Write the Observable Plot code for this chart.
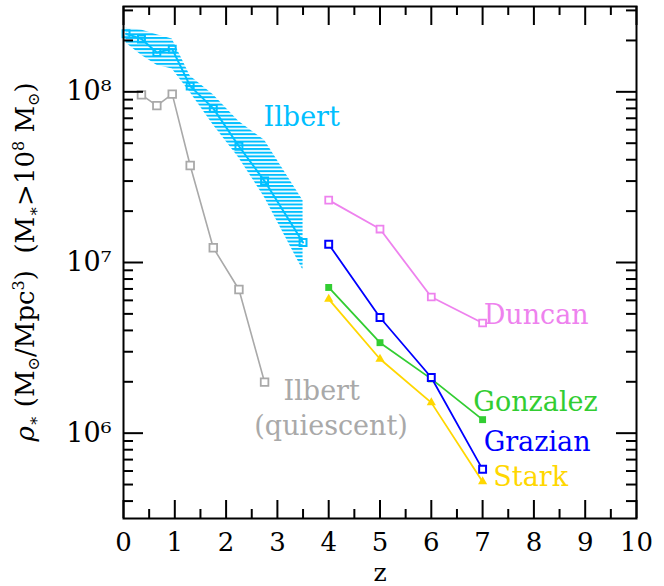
<!DOCTYPE html>
<html>
<head>
<meta charset="utf-8">
<script src="https://cdn.jsdelivr.net/npm/d3@7"></script>
<script src="https://cdn.jsdelivr.net/npm/@observablehq/plot@0.6"></script>
<style>
  body { margin: 0; background: #fff; }
  #chart svg { display: block; }
</style>
</head>
<body>
<div id="chart"></div>
<script>
// ---------------- data ----------------
const ilbertZ   = [0.05, 0.35, 0.65, 0.95, 1.3, 1.75, 2.25, 2.75, 3.5];
const ilbertRho = [2.19e8, 2.04e8, 1.70e8, 1.78e8, 1.08e8, 8.0e7, 4.8e7, 3.0e7, 1.31e7];
const ilbertHi  = [2.36e8, 2.30e8, 2.16e8, 2.04e8, 1.24e8, 9.6e7, 6.7e7, 5.2e7, 2.3e7];
const ilbertLo  = [1.93e8, 1.64e8, 1.43e8, 1.36e8, 9.9e7, 6.4e7, 4.1e7, 2.4e7, 9.0e6];

const quiescentZ   = [0.35, 0.65, 0.95, 1.3, 1.75, 2.25, 2.75];
const quiescentRho = [9.6e7, 8.3e7, 9.7e7, 3.7e7, 1.22e7, 6.95e6, 1.99e6];

const highZ       = [4, 5, 6, 7];
const duncanRho   = [2.32e7, 1.57e7, 6.28e6, 4.42e6];
const grazianRho  = [1.28e7, 4.76e6, 2.12e6, 6.14e5];
const gonzalezRho = [7.14e6, 3.39e6, 2.08e6, 1.20e6];
const starkRho    = [6.1e6, 2.72e6, 1.51e6, 5.2e5];

const xMajor = [0, 1, 2, 3, 4, 5, 6, 7, 8, 9, 10];
const xMinor = [0.5, 1.5, 2.5, 3.5, 4.5, 5.5, 6.5, 7.5, 8.5, 9.5];
const yMajor = [1e6, 1e7, 1e8];
const yMajorLabels = ["10⁶", "10⁷", "10⁸"];
const yMinor = [4e5, 5e5, 6e5, 7e5, 8e5, 9e5,
                2e6, 3e6, 4e6, 5e6, 6e6, 7e6, 8e6, 9e6,
                2e7, 3e7, 4e7, 5e7, 6e7, 7e7, 8e7, 9e7,
                2e8, 3e8];

const labelText   = ["Ilbert", "Duncan", "Gonzalez", "Grazian", "Stark", "Ilbert", "(quiescent)"];
const labelSeries = ["Ilbert", "Duncan", "Gonzalez", "Grazian", "Stark", "Quiescent", "Quiescent"];
const labelZ      = [2.73, 7.02, 6.82, 7.02, 7.21, 3.12, 2.55];
const labelRho    = [6.32e7, 4.36e6, 1.34e6, 7.89e5, 4.93e5, 1.56e6, 9.8e5];

// ---------------- styles ----------------
const colors = {
  Ilbert: "#00BFFF", Quiescent: "#A9A9A9", Duncan: "#EE82EE",
  Gonzalez: "#32CD32", Grazian: "#0000FF", Stark: "#FFD700"
};
const W = 664, H = 586, mL = 123, mR = 28, mT = 6, mB = 68;
const frameW = W - mL - mR, frameH = H - mT - mB;

// ---------------- tables ----------------
const ilbert = ilbertZ.map((z, i) => ({z, rho: ilbertRho[i], hi: ilbertHi[i], lo: ilbertLo[i]}));
const quiescent = quiescentZ.map((z, i) => ({z, rho: quiescentRho[i]}));
const mk = arr => highZ.map((z, i) => ({z, rho: arr[i]}));
const duncan = mk(duncanRho), grazian = mk(grazianRho), gonzalez = mk(gonzalezRho), stark = mk(starkRho);
const labels = labelText.map((t, i) => ({t, s: labelSeries[i], z: labelZ[i], rho: labelRho[i]}));

const fs = 27;
const chart = Plot.plot({
  width: W, height: H,
  marginLeft: mL, marginRight: mR, marginTop: mT, marginBottom: mB,
  style: {fontFamily: "'DejaVu Serif', serif", fontSize: fs + "px", background: "white", color: "black"},
  x: {domain: [0, 10], axis: null},
  y: {type: "log", domain: [10 ** 5.5, 10 ** 8.5], axis: null},
  marks: [
    // Ilbert shaded band
    Plot.areaY(ilbert, {x: "z", y1: "lo", y2: "hi", fill: "url(#hatch)"}),
    Plot.line(ilbert, {x: "z", y: "rho", stroke: colors.Ilbert, strokeWidth: 2}),
    Plot.dot(ilbert, {x: "z", y: "rho", symbol: "square", r: 3.9, stroke: colors.Ilbert, strokeWidth: 2, fill: "none"}),
    // quiescent
    Plot.line(quiescent, {x: "z", y: "rho", stroke: colors.Quiescent, strokeWidth: 1.6}),
    Plot.dot(quiescent, {x: "z", y: "rho", symbol: "square", r: 4.3, stroke: colors.Quiescent, strokeWidth: 1.8, fill: "white"}),
    // Duncan
    Plot.line(duncan, {x: "z", y: "rho", stroke: colors.Duncan, strokeWidth: 1.8}),
    Plot.dot(duncan, {x: "z", y: "rho", symbol: "square", r: 3.9, stroke: colors.Duncan, strokeWidth: 1.8, fill: "white"}),
    // Gonzalez
    Plot.line(gonzalez, {x: "z", y: "rho", stroke: colors.Gonzalez, strokeWidth: 1.8}),
    Plot.dot(gonzalez, {x: "z", y: "rho", symbol: "square", r: 3.9, fill: colors.Gonzalez}),
    // Stark
    Plot.line(stark, {x: "z", y: "rho", stroke: colors.Stark, strokeWidth: 1.8}),
    Plot.dot(stark, {x: "z", y: "rho", symbol: "triangle", r: 3.4, fill: colors.Stark}),
    // Grazian
    Plot.line(grazian, {x: "z", y: "rho", stroke: colors.Grazian, strokeWidth: 1.8}),
    Plot.dot(grazian, {x: "z", y: "rho", symbol: "square", r: 3.9, stroke: colors.Grazian, strokeWidth: 2, fill: "white"}),
    // series labels
    Plot.text(labels, {x: "z", y: "rho", text: "t", fill: d => colors[d.s], textAnchor: "start", lineAnchor: "bottom", fontSize: fs}),
    // ticks (inward)
    Plot.tickX(xMajor, {insetTop: frameH - 18, stroke: "black", strokeWidth: 2}),
    Plot.tickX(xMajor, {insetBottom: frameH - 19, stroke: "black", strokeWidth: 2}),
    Plot.tickX(xMinor, {insetTop: frameH - 9, stroke: "black", strokeWidth: 2}),
    Plot.tickX(xMinor, {insetBottom: frameH - 9, stroke: "black", strokeWidth: 2}),
    Plot.tickY(yMajor, {insetRight: frameW - 20, stroke: "black", strokeWidth: 2}),
    Plot.tickY(yMajor, {insetLeft: frameW - 20, stroke: "black", strokeWidth: 2}),
    Plot.tickY(yMinor, {insetRight: frameW - 10, stroke: "black", strokeWidth: 2}),
    Plot.tickY(yMinor, {insetLeft: frameW - 10, stroke: "black", strokeWidth: 2}),
    Plot.frame({stroke: "black", strokeWidth: 2}),
    // tick labels
    Plot.text(xMajor, {x: d => d, frameAnchor: "bottom", text: d => String(d), lineAnchor: "top", dy: 14, fontSize: 26, fill: "black"}),
    Plot.text(yMajor, {y: d => d, frameAnchor: "left", text: (d, i) => yMajorLabels[i], textAnchor: "end", lineAnchor: "middle", dx: -12, fontSize: fs, fill: "black"}),
    // x axis label
    Plot.text(["z"], {frameAnchor: "bottom", text: d => d, lineAnchor: "bottom", dy: 62, fontSize: 25, fill: "black"})
  ]
});

document.getElementById("chart").appendChild(chart);

// hatch pattern for the Ilbert band
const svg = d3.select(chart);
const defs = svg.insert("defs", ":first-child");
const pat = defs.append("pattern").attr("id", "hatch")
  .attr("patternUnits", "userSpaceOnUse").attr("width", 10).attr("height", 3.7);
pat.append("rect").attr("x", 0).attr("y", 0).attr("width", 10).attr("height", 2).attr("fill", colors.Ilbert);

// rotated y-axis label with sub/superscripts
const yl = svg.append("text")
  .attr("transform", "translate(34,262) rotate(-90)")
  .attr("text-anchor", "middle")
  .attr("font-family", "'DejaVu Serif', serif")
  .attr("font-size", 26)
  .attr("fill", "black");
const parts = [
  {t: "ρ", style: "italic"},
  {t: "∗", size: 16, dy: 5},
  {t: " (M", dy: -5},
  {t: "⊙", size: 16, dy: 5},
  {t: "/Mpc", dy: -5},
  {t: "3", size: 16, dy: -10},
  {t: ")  (M", dy: 10},
  {t: "∗", size: 16, dy: 5},
  {t: ">10", dy: -5},
  {t: "8", size: 16, dy: -10},
  {t: " M", dy: 10},
  {t: "⊙", size: 16, dy: 5},
  {t: ")", dy: -5}
];
for (const p of parts) {
  const ts = yl.append("tspan").text(p.t);
  if (p.size) ts.attr("font-size", p.size);
  if (p.dy) ts.attr("dy", p.dy);
  if (p.style) ts.attr("font-style", p.style);
}
</script>
</body>
</html>
